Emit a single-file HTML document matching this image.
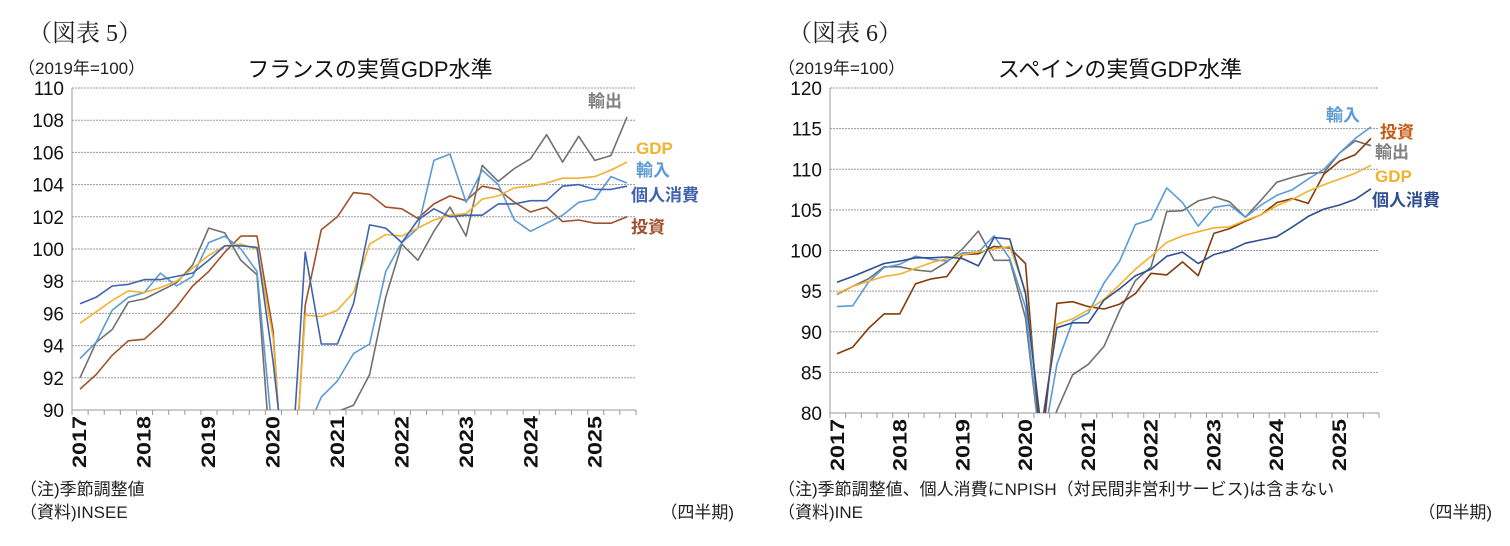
<!DOCTYPE html>
<html><head><meta charset="utf-8">
<style>
html,body{margin:0;padding:0;background:#fff;width:1510px;height:546px;overflow:hidden;}
svg{display:block;}
text{font-family:"Liberation Sans","Noto Sans CJK JP",sans-serif;}
.s{font-family:"Liberation Serif","Noto Serif CJK SC",serif;}
</style></head><body>
<svg id="c" width="1510" height="546" viewBox="0 0 1510 546" xmlns="http://www.w3.org/2000/svg">
<defs>
<clipPath id="cl"><rect x="72" y="88" width="564" height="322"/></clipPath>
<clipPath id="cr"><rect x="830" y="88" width="550" height="325"/></clipPath>
</defs>
<g id="L"></g><g id="R"></g>
<text class="s" x="28" y="41" font-size="24" fill="#222">（図表 5）</text>
<text x="18" y="74" font-size="17" fill="#222">（2019年=100）</text>
<text x="370" y="77" font-size="22" fill="#111" text-anchor="middle">フランスの実質GDP水準</text>
<text x="20" y="495" font-size="17" fill="#222">（注)季節調整値</text>
<text x="20" y="518" font-size="17" fill="#222">（資料)INSEE</text>
<text x="734" y="518" font-size="17" fill="#222" text-anchor="end">（四半期)</text>
<g font-size="17" font-weight="bold">
<text x="588" y="107" fill="#7f7f7f">輸出</text>
<text x="636" y="154" fill="#f2b12e">GDP</text>
<text x="636" y="176" fill="#5b9bd5">輸入</text>
<text x="631" y="201" fill="#3f63ad">個人消費</text>
<text x="631" y="233" fill="#a0522d">投資</text>
</g>
<text class="s" x="788" y="41" font-size="24" fill="#222">（図表 6）</text>
<text x="778" y="74" font-size="17" fill="#222">（2019年=100）</text>
<text x="1120" y="77" font-size="22" fill="#111" text-anchor="middle">スペインの実質GDP水準</text>
<text x="778" y="495" font-size="17" fill="#222">（注)季節調整値、個人消費にNPISH（対民間非営利サービス)は含まない</text>
<text x="778" y="518" font-size="17" fill="#222">（資料)INE</text>
<text x="1492" y="518" font-size="17" fill="#222" text-anchor="end">（四半期)</text>
<g font-size="17" font-weight="bold">
<text x="1326" y="121" fill="#5b9bd5">輸入</text>
<text x="1380" y="138" fill="#c55a11">投資</text>
<text x="1375" y="158" fill="#7f7f7f">輸出</text>
<text x="1375" y="182" fill="#f2b12e">GDP</text>
<text x="1372" y="206" fill="#2f4f8f">個人消費</text>
</g>
</svg>
<script>
var NS="http://www.w3.org/2000/svg";
function el(p,t,a,txt){var e=document.createElementNS(NS,t);for(var k in a)e.setAttribute(k,a[k]);if(txt!==undefined)e.textContent=txt;p.appendChild(e);return e;}
function chart(g,o){
 var x0=o.x0,x1=o.x1,y0=o.y0,y1=o.y1;
 function Y(v){return y1-(v-o.min)/(o.max-o.min)*(y1-y0);}
 for(var v=o.min;v<=o.max+1e-9;v+=o.step){
  var y=Y(v);
  if(v>o.min) el(g,"line",{x1:x0,x2:x1,y1:y,y2:y,stroke:"#9a9a9a","stroke-width":1,"stroke-dasharray":"2,1"});
  el(g,"text",{x:x0-8,y:y+7,"font-size":19,"text-anchor":"end",fill:"#111"},String(v));
 }
 el(g,"line",{x1:x0,x2:x0,y1:y0,y2:y1,stroke:"#999","stroke-width":1});
 el(g,"line",{x1:x0,x2:x1,y1:y1,y2:y1,stroke:"#999","stroke-width":1});
 var n=35,qw=(x1-x0)/n;
 for(var k=0;k<=n;k++){var x=x0+k*qw;el(g,"line",{x1:x,x2:x,y1:y1,y2:y1+5,stroke:"#999","stroke-width":1});}
 for(var yr=0;yr<9;yr++){
  var cx=x0+qw*(yr*4+0.5)+6;
  el(g,"text",{x:0,y:0,"font-size":19,"font-weight":"bold",fill:"#111","text-anchor":"end",textLength:52,lengthAdjust:"spacingAndGlyphs",transform:"translate("+cx+","+(y1+6)+") rotate(-90)"},String(2017+yr));
 }
 var sg=el(g,"g",{"clip-path":o.clip});
 o.series.forEach(function(s){
  var pts=s.d.map(function(v,i){return (o.p0+i*(o.p1-o.p0)/34).toFixed(1)+","+Y(v).toFixed(1);}).join(" ");
  el(sg,"polyline",{points:pts,fill:"none",stroke:s.c,"stroke-width":1.6,"stroke-linejoin":"round"});
 });
}
chart(document.getElementById("L"),{x0:72,x1:636,y0:88,y1:410,min:90,max:110,step:2,p0:80,p1:627,clip:"url(#cl)",series:[
 {c:"#a0522d",d:[91.3,92.2,93.4,94.3,94.4,95.3,96.4,97.7,98.6,99.8,100.8,100.8,94.9,80,96.5,101.2,102.0,103.5,103.4,102.6,102.5,101.9,102.8,103.3,103.0,103.9,103.7,102.9,102.3,102.6,101.7,101.8,101.6,101.6,102.0]},
 {c:"#707070",d:[92.0,94.2,95.0,96.7,96.9,97.4,97.9,99.0,101.3,101.0,99.3,98.4,85,78,80,85,89.9,90.3,92.2,97.0,100.3,99.3,101.1,102.6,100.8,105.2,104.2,105.0,105.6,107.1,105.4,107.0,105.5,105.8,108.2]},
 {c:"#5b9bd5",d:[93.2,94.2,96.2,97.0,97.3,98.5,97.7,98.3,100.4,100.8,100.0,98.6,88,78,88.5,90.8,91.8,93.5,94.1,98.6,100.4,101.3,105.5,105.9,102.9,104.9,104.0,101.8,101.1,101.6,102.1,102.9,103.1,104.5,104.1]},
 {c:"#f2b12e",d:[95.4,96.1,96.8,97.4,97.3,97.6,98.0,98.8,99.6,100.2,100.3,100.0,94.5,81,95.9,95.8,96.2,97.3,100.3,100.9,100.8,101.3,101.8,102.1,102.2,103.1,103.3,103.8,103.9,104.1,104.4,104.4,104.5,104.9,105.4]},
 {c:"#3f63ad",d:[96.6,97.0,97.7,97.8,98.1,98.1,98.3,98.5,99.3,100.2,100.2,100.1,93,84,99.8,94.1,94.1,96.6,101.5,101.3,100.4,101.8,102.5,102.0,102.1,102.1,102.8,102.8,103.0,103.0,103.9,104.0,103.7,103.7,103.9]}
]});
chart(document.getElementById("R"),{x0:830,x1:1379,y0:88,y1:413,min:80,max:120,step:5,p0:837,p1:1371,clip:"url(#cr)",series:[
 {c:"#707070",d:[94.6,95.6,96.5,98.0,98.0,97.6,97.4,98.6,100.2,102.4,98.8,98.8,91.7,75,80.3,84.7,86.0,88.2,92.6,96.3,98.0,104.8,104.9,106.1,106.6,106.0,104.1,106.2,108.4,109.0,109.5,109.6,112.0,113.5,112.9]},
 {c:"#5b9bd5",d:[93.1,93.2,96.1,97.9,98.3,99.3,98.9,98.7,99.7,99.8,101.8,99.0,93,75,86.0,91.3,92.3,96.0,98.7,103.2,103.8,107.7,105.9,103.0,105.3,105.6,104.1,105.6,106.8,107.5,108.8,110.0,112.0,113.8,115.2]},
 {c:"#843c0c",d:[87.3,88.1,90.4,92.2,92.2,95.9,96.5,96.8,99.5,99.6,100.5,100.3,98.4,75,93.5,93.7,93.1,92.8,93.4,94.7,97.2,97.0,98.6,96.9,102.1,102.7,103.6,104.4,105.9,106.4,105.8,109.4,111.0,111.8,113.8]},
 {c:"#f2b12e",d:[94.7,95.6,96.2,96.8,97.1,97.8,98.5,99.0,99.5,99.8,100.2,100.5,95,78,90.9,91.6,92.7,94.0,95.8,97.7,99.3,101.0,101.8,102.3,102.8,102.9,103.7,104.4,105.5,106.3,107.3,108.1,108.8,109.5,110.5]},
 {c:"#2f4f8f",d:[96.1,96.8,97.6,98.4,98.7,99.1,99.1,99.2,99.0,98.1,101.6,101.4,94.7,78,90.5,91.1,91.1,93.9,95.3,96.9,97.7,99.3,99.8,98.4,99.5,100.0,100.9,101.3,101.7,102.9,104.2,105.1,105.6,106.3,107.6]}
]});
</script>
</body></html>
